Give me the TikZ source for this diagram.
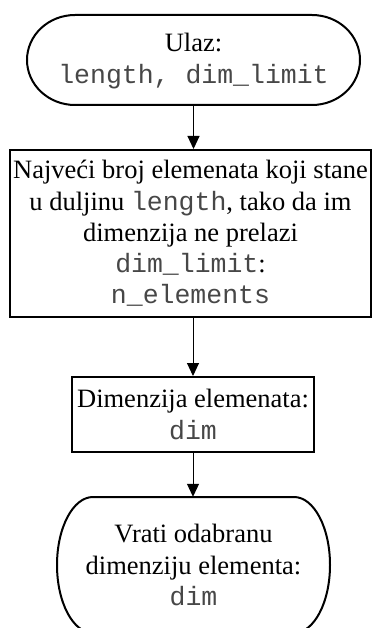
\documentclass[tikz,border=0pt]{standalone}
\usepackage{fontspec}
\setmainfont{Liberation Serif}
\setmonofont{Liberation Mono}
\usetikzlibrary{arrows.meta}
\newcommand{\code}[1]{\textcolor{black!72}{\texttt{#1}}}
\begin{document}
\begin{tikzpicture}[x=1pt,y=-1pt,
  txt/.style={inner sep=0pt,align=center,font=\fontsize{26.5}{31.2}\selectfont},
  box/.style={txt,draw,line width=2pt},
  outline/.style={draw,line width=2pt},
  arr/.style={line width=1pt,-{Triangle[length=13pt,width=12pt]}}]
\useasboundingbox (0,0) rectangle (372,628);
% start terminal
\node[txt,minimum width=333pt,minimum height=90pt] (start) at (193.5,61) {Ulaz:\\\code{length, dim\_limit}};
\draw[outline] (75,15) -- (312,15) arc[start angle=-90,end angle=90,x radius=48,y radius=45]
  -- (75,105) arc[start angle=90,end angle=270,x radius=48,y radius=45] -- cycle;
% process 1
\node[box,minimum width=361pt,minimum height=167pt] (calc) at (190.5,233.5)
  {Najveći broj elemenata koji stane\\u duljinu \code{length}, tako da im\\dimenzija ne prelazi\\\code{dim\_limit}:\\\code{n\_elements}};
% process 2
\node[box,minimum width=242pt,minimum height=75pt] (dimbox) at (193,414.5)
  {Dimenzija elemenata:\\\code{dim}};
% end terminal
\node[txt,minimum width=273pt,minimum height=136pt] (stop) at (193.5,565)
  {Vrati odabranu\\dimenziju elementa:\\\code{dim}};
\draw[outline] (93,497) -- (294,497) arc[start angle=-90,end angle=90,x radius=36,y radius=68]
  -- (93,633) arc[start angle=90,end angle=270,x radius=36,y radius=68] -- cycle;
% connectors
\draw[arr] (start.south) -- (start.south |- calc.north);
\draw[arr] (dimbox.north |- calc.south) -- (dimbox.north);
\draw[arr] (dimbox.south) -- (dimbox.south |- stop.north);
\end{tikzpicture}
\end{document}
